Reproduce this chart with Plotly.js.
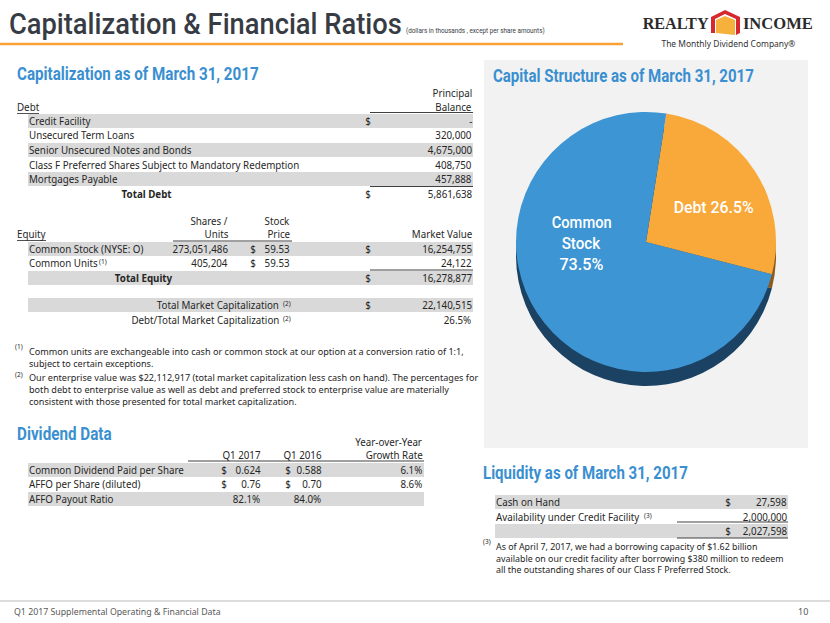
<!DOCTYPE html>
<html><head><meta charset="utf-8">
<script src="https://cdn.plot.ly/plotly-3.0.1.min.js"></script>
<style>html,body{margin:0;padding:0;background:#fff;}#chart{width:830px;height:623px;}</style>
</head><body><div id="chart"></div>
<script>
// ---------- data ----------
const pieLabels = ['Debt', 'Common Stock'];
const pieValues = [26.5, 73.5];

const debtLabels = ['Credit Facility', 'Unsecured Term Loans', 'Senior Unsecured Notes and Bonds',
  'Class F Preferred Shares Subject to Mandatory Redemption', 'Mortgages Payable'];
const debtValues = [0, 320000, 4675000, 408750, 457888];
const totalDebt = 5861638;

const equityLabels = ['Common Stock (NYSE: O)', 'Common Units'];
const equityNotes = ['', '(1)'];
const equityShares = [273051486, 405204];
const equityPrices = [59.53, 59.53];
const equityValues = [16254755, 24122];
const totalEquity = 16278877;
const totalMarketCap = 22140515;
const debtToMarketCap = 26.5;

const dividendLabels = ['Common Dividend Paid per Share', 'AFFO per Share (diluted)', 'AFFO Payout Ratio'];
const dividendQ1_2017 = [0.624, 0.76, 82.1];
const dividendQ1_2016 = [0.588, 0.70, 84.0];
const dividendGrowth = [6.1, 8.6, null];
const dividendKinds = ['$3', '$2', '%'];

const liquidityLabels = ['Cash on Hand', 'Availability under Credit Facility'];
const liquidityNotes = ['', '(3)'];
const liquidityValues = [27598, 2000000];
const liquidityTotal = 2027598;

const footnotes1 = [
  'Common units are exchangeable into cash or common stock at our option at a conversion ratio of 1:1,',
  'subject to certain exceptions.'];
const footnotes2 = [
  'Our enterprise value was $22,112,917 (total market capitalization less cash on hand). The percentages for',
  'both debt to enterprise value as well as debt and preferred stock to enterprise value are materially',
  'consistent with those presented for total market capitalization.'];
const footnotes3 = [
  'As of April 7, 2017, we had a borrowing capacity of $1.62 billion',
  'available on our credit facility after borrowing $380 million to redeem',
  'all the outstanding shares of our Class F Preferred Stock.'];

// ---------- helpers ----------
const W = 830, H = 623;
const X = p => p / W, Y = p => 1 - p / H;
const HEAD = 'Roboto, "Liberation Sans", sans-serif';
const BODY = '"Noto Sans", "Open Sans", sans-serif';
const BLUE = '#3a8fd0', TXT = '#262626', GRAY = '#d9d9d9', BS = 10.4, BSX = 0.94;
const ann = [], shp = [], fits = [];
function txt(x, y, s, o = {}) {
  ann.push({xref: 'paper', yref: 'paper', x: X(x), y: Y(y), text: s, showarrow: false,
    xanchor: o.anchor || 'left', yanchor: 'middle', align: o.align || 'left', borderpad: 0,
    font: {family: o.family || BODY, size: o.size || BS, color: o.color || TXT, weight: o.weight || 'normal'}});
  const i = ann.length - 1, anchor = o.anchor || 'left';
  if (o.fit) fits.push({i, w: o.fit, anchor});
  else if (!o.size) fits.push({i, s: BSX, anchor});
}
function rect(x0, y0, x1, y1, fill) {
  shp.push({type: 'rect', xref: 'paper', yref: 'paper', x0: X(x0), x1: X(x1), y0: Y(y1), y1: Y(y0),
    fillcolor: fill, line: {width: 0}, layer: 'below'});
}
function hl(x0, x1, y, color, w) {
  shp.push({type: 'line', xref: 'paper', yref: 'paper', x0: X(x0), x1: X(x1), y0: Y(y), y1: Y(y),
    line: {color: color || '#404040', width: w || 1}, layer: 'below'});
}
const fmt = v => v.toLocaleString('en-US');
const note = (x, y, s) => txt(x, y, s, {size: 6.5});

// ---------- header ----------
txt(8, 23, 'Capitalization & Financial Ratios', {family: HEAD, size: 30, color: '#373c44', weight: 500, fit: 393});
txt(405, 31, '(dollars in thousands , except per share amounts)', {family: HEAD, size: 8, color: '#373c44', fit: 139});
hl(0, 623, 44, '#f7a136', 2.5);
txt(675, 23, 'REALTY', {family: '"Liberation Serif", serif', size: 17, color: '#2b2b2b', anchor: 'center', weight: 'bold', fit: 66});
txt(778, 23, 'INCOME', {family: '"Liberation Serif", serif', size: 17, color: '#2b2b2b', anchor: 'center', weight: 'bold', fit: 70});
shp.push({type: 'path', xref: 'paper', yref: 'paper', layer: 'above',
  path: `M${X(711)},${Y(33)} L${X(711)},${Y(17)} L${X(725)},${Y(10)} L${X(740)},${Y(17)} L${X(740)},${Y(33)} L${X(736)},${Y(35)} L${X(736)},${Y(19)} L${X(725)},${Y(14)} L${X(715)},${Y(19)} L${X(715)},${Y(33)} Z`,
  fillcolor: '#d7282f', line: {width: 0}});
shp.push({type: 'path', xref: 'paper', yref: 'paper', layer: 'above',
  path: `M${X(716)},${Y(33)} L${X(716)},${Y(20)} L${X(725)},${Y(16)} L${X(735)},${Y(20)} L${X(735)},${Y(35)} Z`,
  fillcolor: '#f6b13c', line: {width: 0}});
txt(728, 43, 'The Monthly Dividend Company®', {size: 8.5, color: '#333', anchor: 'center', fit: 134});

// ---------- capitalization ----------
txt(16, 73, 'Capitalization as of March 31, 2017', {family: HEAD, size: 18, color: BLUE, weight: 'bold', fit: 242});
txt(473, 93, 'Principal', {anchor: 'right'});
txt(473, 107, 'Balance', {anchor: 'right'});
txt(16, 107, 'Debt');
hl(17, 39, 113.5, TXT, 0.8);
hl(370, 473, 112.5, '#404040', 1);
const debtY = [121, 135, 150, 165, 179];
debtLabels.forEach((l, i) => {
  if (i % 2 === 0) rect(28, debtY[i] - 7, 473, debtY[i] + 7, GRAY);
  txt(28, debtY[i], l);
  txt(473, debtY[i], debtValues[i] === 0 ? '-' : fmt(debtValues[i]), {anchor: 'right'});
});
txt(368, debtY[0], '$', {anchor: 'center'});
hl(370, 473, 186.5, '#404040', 1);
txt(147, 194, 'Total Debt', {anchor: 'center', weight: 'bold'});
txt(368, 194, '$', {anchor: 'center'});
txt(473, 194, fmt(totalDebt), {anchor: 'right'});

txt(229, 221, 'Shares /', {anchor: 'right'});
txt(229, 234, 'Units', {anchor: 'right'});
txt(291, 221, 'Stock', {anchor: 'right'});
txt(291, 234, 'Price', {anchor: 'right'});
txt(16, 234, 'Equity');
hl(17, 46, 240.5, TXT, 0.8);
txt(473, 234, 'Market Value', {anchor: 'right'});
hl(173, 292, 241, '#404040', 1);
const eqY = [249, 263];
equityLabels.forEach((l, i) => {
  if (i % 2 === 0) rect(28, eqY[i] - 7, 473, eqY[i] + 7, GRAY);
  txt(28, eqY[i], l);
  if (equityNotes[i]) note(98, eqY[i] - 1.5, equityNotes[i]);
  txt(229, eqY[i], fmt(equityShares[i]), {anchor: 'right'});
  txt(253, eqY[i], '$', {anchor: 'center'});
  txt(291, eqY[i], equityPrices[i].toFixed(2), {anchor: 'right'});
  txt(473, eqY[i], fmt(equityValues[i]), {anchor: 'right'});
});
txt(368, eqY[0], '$', {anchor: 'center'});
hl(370, 473, 270, '#404040', 1);
rect(28, 271, 473, 285, GRAY);
txt(143, 278, 'Total Equity', {anchor: 'center', weight: 'bold'});
txt(368, 278, '$', {anchor: 'center'});
txt(473, 278, fmt(totalEquity), {anchor: 'right'});

rect(28, 298, 473, 312, GRAY);
txt(280, 305, 'Total Market Capitalization', {anchor: 'right'});
note(282, 303.5, '(2)');
txt(368, 305, '$', {anchor: 'center'});
txt(473, 305, fmt(totalMarketCap), {anchor: 'right'});
txt(280, 320, 'Debt/Total Market Capitalization', {anchor: 'right'});
note(282, 318.5, '(2)');
txt(473, 320, debtToMarketCap.toFixed(1) + '%', {anchor: 'right'});

// footnotes
note(14, 346, '(1)');
txt(28, 357.8, footnotes1.join('<br>'), {size: 9.1});
note(14, 374, '(2)');
txt(28, 389.5, footnotes2.join('<br>'), {size: 9.1});

// ---------- dividend ----------
txt(16, 433, 'Dividend Data', {family: HEAD, size: 18, color: BLUE, weight: 'bold', fit: 95});
txt(424, 442, 'Year-over-Year', {anchor: 'right'});
txt(424, 455, 'Growth Rate', {anchor: 'right'});
txt(262, 455, 'Q1 2017', {anchor: 'right'});
txt(323, 455, 'Q1 2016', {anchor: 'right'});
hl(188, 424, 461, '#404040', 1);
const divY = [470, 484, 499];
dividendLabels.forEach((l, i) => {
  if (i % 2 === 0) rect(28, divY[i] - 7, 424, divY[i] + 7, GRAY);
  txt(28, divY[i], l);
  const k = dividendKinds[i];
  if (k === '%') {
    txt(262, divY[i], dividendQ1_2017[i].toFixed(1) + '%', {anchor: 'right'});
    txt(323, divY[i], dividendQ1_2016[i].toFixed(1) + '%', {anchor: 'right'});
  } else {
    const d = k === '$3' ? 3 : 2;
    txt(224, divY[i], '$', {anchor: 'center'});
    txt(262, divY[i], dividendQ1_2017[i].toFixed(d), {anchor: 'right'});
    txt(288, divY[i], '$', {anchor: 'center'});
    txt(323, divY[i], dividendQ1_2016[i].toFixed(d), {anchor: 'right'});
  }
  if (dividendGrowth[i] !== null) txt(424, divY[i], dividendGrowth[i].toFixed(1) + '%', {anchor: 'right'});
});

// ---------- pie panel ----------
rect(484, 60, 808, 448, '#f2f2f2');
txt(492, 76, 'Capital Structure as of March 31, 2017', {family: HEAD, size: 18, color: BLUE, weight: 'bold', fit: 261});

// ---------- liquidity ----------
txt(482, 472, 'Liquidity as of March 31, 2017', {family: HEAD, size: 18, color: BLUE, weight: 'bold', fit: 205});
const liqY = [502, 517];
liquidityLabels.forEach((l, i) => {
  if (i % 2 === 0) rect(495, liqY[i] - 7, 788, liqY[i] + 7, GRAY);
  txt(495, liqY[i], l);
  if (liquidityNotes[i]) note(643, liqY[i] - 1.5, liquidityNotes[i]);
  txt(788, liqY[i], fmt(liquidityValues[i]), {anchor: 'right'});
});
txt(728, liqY[0], '$', {anchor: 'center'});
hl(677, 788, 522, '#404040', 1);
rect(495, 524, 788, 538, GRAY);
txt(728, 531, '$', {anchor: 'center'});
txt(788, 531, fmt(liquidityTotal), {anchor: 'right'});
hl(677, 788, 538, '#404040', 1);
note(482, 541, '(3)');
txt(495, 558.5, footnotes3.join('<br>'), {size: 8.85});

// ---------- footer ----------
hl(0, 830, 601, '#d0d0d0', 1.5);
txt(13, 611, 'Q1 2017 Supplemental Operating & Financial Data', {size: 9, color: '#595959', fit: 207});
txt(809, 611, '10', {size: 9, color: '#595959', anchor: 'right'});

// ---------- pie ----------
const cx = 646, cy = 242, r = 130, depth = 14;
const pieBase = {type: 'pie', labels: pieLabels, values: pieValues, sort: false, direction: 'clockwise',
  rotation: 9, textinfo: 'none', hoverinfo: 'label+percent', showlegend: false};
const pieShadow = Object.assign({}, pieBase, {
  marker: {colors: ['#8c5a1c', '#1b4263'], line: {width: 0}},
  domain: {x: [X(cx - r), X(cx + r)], y: [Y(cy + depth + r), Y(cy + depth - r)]}});
const pieTop = Object.assign({}, pieBase, {
  marker: {colors: ['#f9a83a', '#3d95d3'], line: {width: 0}},
  domain: {x: [X(cx - r), X(cx + r)], y: [Y(cy + r), Y(cy - r)]}});
const PL = {family: HEAD, size: 16.5, color: '#fff', anchor: 'center', weight: 500};
txt(713, 207, pieLabels[0] + ' ' + pieValues[0].toFixed(1) + '%', Object.assign({fit: 80}, PL));
txt(581, 222, pieLabels[1].split(' ')[0], Object.assign({fit: 60}, PL));
txt(581, 243, pieLabels[1].split(' ')[1], Object.assign({fit: 39}, PL));
txt(581, 264, pieValues[1].toFixed(1) + '%', Object.assign({fit: 44}, PL));

Plotly.newPlot('chart', [pieShadow, pieTop], {
  width: W, height: H, margin: {l: 0, r: 0, t: 0, b: 0},
  paper_bgcolor: '#fff', plot_bgcolor: '#fff',
  annotations: ann, shapes: shp
}, {displayModeBar: false, staticPlot: true}).then(gd => {
  // condense glyphs horizontally to match the slide's narrower typefaces
  fits.forEach(f => {
    const g = gd.querySelector(`.annotation[data-index="${f.i}"]`);
    if (!g) return;
    const t = g.querySelector('text.annotation-text');
    if (!t) return;
    const w = t.getBBox().width;
    if (!w) return;
    const s = f.s || f.w / w;
    t.style.transformBox = 'fill-box';
    t.style.transformOrigin = f.anchor === 'left' ? 'left center' : (f.anchor === 'right' ? 'right center' : 'center center');
    t.style.transform = `scaleX(${s.toFixed(4)})`;
  });
});
</script>
</body></html>
